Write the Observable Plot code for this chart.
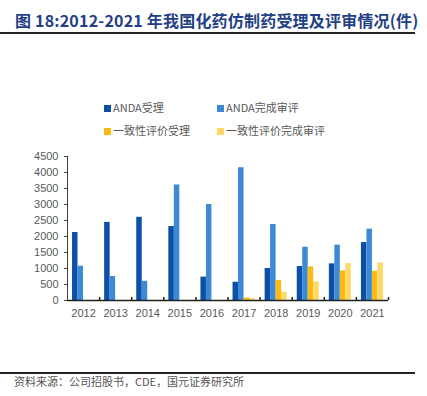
<!DOCTYPE html>
<html><head><meta charset="utf-8">
<script src="https://cdn.jsdelivr.net/npm/d3@7"></script>
<script src="https://cdn.jsdelivr.net/npm/@observablehq/plot@0.6"></script>
<style>
body{margin:0;background:#fff;width:427px;height:396px;position:relative;overflow:hidden;font-family:"Noto Sans CJK SC","Liberation Sans",sans-serif;}
#title{position:absolute;left:15px;top:8px;font-size:16px;font-weight:bold;color:#1f3f86;white-space:nowrap;letter-spacing:0.2px;}
.hr{position:absolute;left:0;width:415px;height:2px;background:#222;}
.leg{position:absolute;font-size:11px;color:#595959;white-space:nowrap;line-height:14px;}
.leg i{display:inline-block;width:7px;height:7px;margin-right:2px;vertical-align:0px;}
#src{position:absolute;left:14px;top:373px;font-size:11px;color:#555;white-space:nowrap;letter-spacing:0px;}
#chart{position:absolute;left:0;top:140px;}
</style></head>
<body>
<div id="title">图 18:2012-2021 年我国化药仿制药受理及评审情况(件)</div>
<div class="hr" style="top:32px"></div>
<div id="legend"></div>
<div id="chart"></div>
<div class="hr" style="top:372px"></div>
<div id="src">资料来源：公司招股书，CDE，国元证券研究所</div>
<script>
const years = [2012,2013,2014,2015,2016,2017,2018,2019,2020,2021];
const seriesNames = ["ANDA受理","ANDA完成审评","一致性评价受理","一致性评价完成审评"];
const colors = ["#0d4ea6","#3c8ad6","#fbbb12","#ffd966"];
const andaAccepted = [2125,2440,2600,2310,730,570,1000,1060,1145,1810];
const andaReviewed = [1070,750,600,3610,3000,4150,2375,1665,1730,2230];
const consAccepted = [null,null,null,null,null,80,625,1050,925,915];
const consReviewed = [null,null,null,null,null,60,260,580,1155,1175];
const yTicks = [0,500,1000,1500,2000,2500,3000,3500,4000,4500];

const seriesVals = [andaAccepted, andaReviewed, consAccepted, consReviewed];
const data = [];
seriesVals.forEach((vals, s) => vals.forEach((v, i) => { if (v != null) data.push({year: years[i], s, value: v}); }));

const pad = 0.157, bw = 0.171;

// legend
const legPos = [[104,100],[217,100],[104,123],[217,123]];
const legend = document.getElementById("legend");
seriesNames.forEach((n, i) => {
  const d = document.createElement("div");
  d.className = "leg";
  d.style.left = legPos[i][0] + "px";
  d.style.top = legPos[i][1] + "px";
  d.innerHTML = `<i style="background:${colors[i]}"></i>${n}`;
  legend.appendChild(d);
});

const chart = Plot.plot({
  width: 427, height: 185,
  marginLeft: 67, marginRight: 39, marginTop: 16, marginBottom: 25,
  style: {fontFamily: "'Liberation Sans', Arial, sans-serif", fontSize: "11px", color: "#595959", background: "transparent", overflow: "visible"},
  x: {domain: [years[0] - 0.5, years[years.length - 1] + 0.5]},
  y: {domain: [0, 4500]},
  marks: [
    Plot.rectY(data, {
      x1: d => d.year - 0.5 + pad + d.s * bw,
      x2: d => d.year - 0.5 + pad + (d.s + 1) * bw,
      y1: 0, y2: "value",
      fill: d => colors[d.s]
    }),
    Plot.axisY({ticks: yTicks, tickSize: 3, tickPadding: 6, label: null, tickFormat: d => String(d), stroke: "#404040", fill: "#595959"}),
    Plot.axisX({ticks: years, tickSize: 0, tickPadding: 9, label: null, tickFormat: d => String(d), fill: "#595959"}),
    Plot.ruleX([years[0] - 0.5], {y1: 0, y2: 4500, stroke: "#404040", strokeWidth: 1}),
    Plot.ruleX(years.map(y => y + 0.5), {y1: 0, y2: 95, stroke: "#222", strokeWidth: 1.5}),
    Plot.ruleY([0], {stroke: "#222", strokeWidth: 1.5})
  ]
});
document.getElementById("chart").appendChild(chart);
</script>
</body></html>
